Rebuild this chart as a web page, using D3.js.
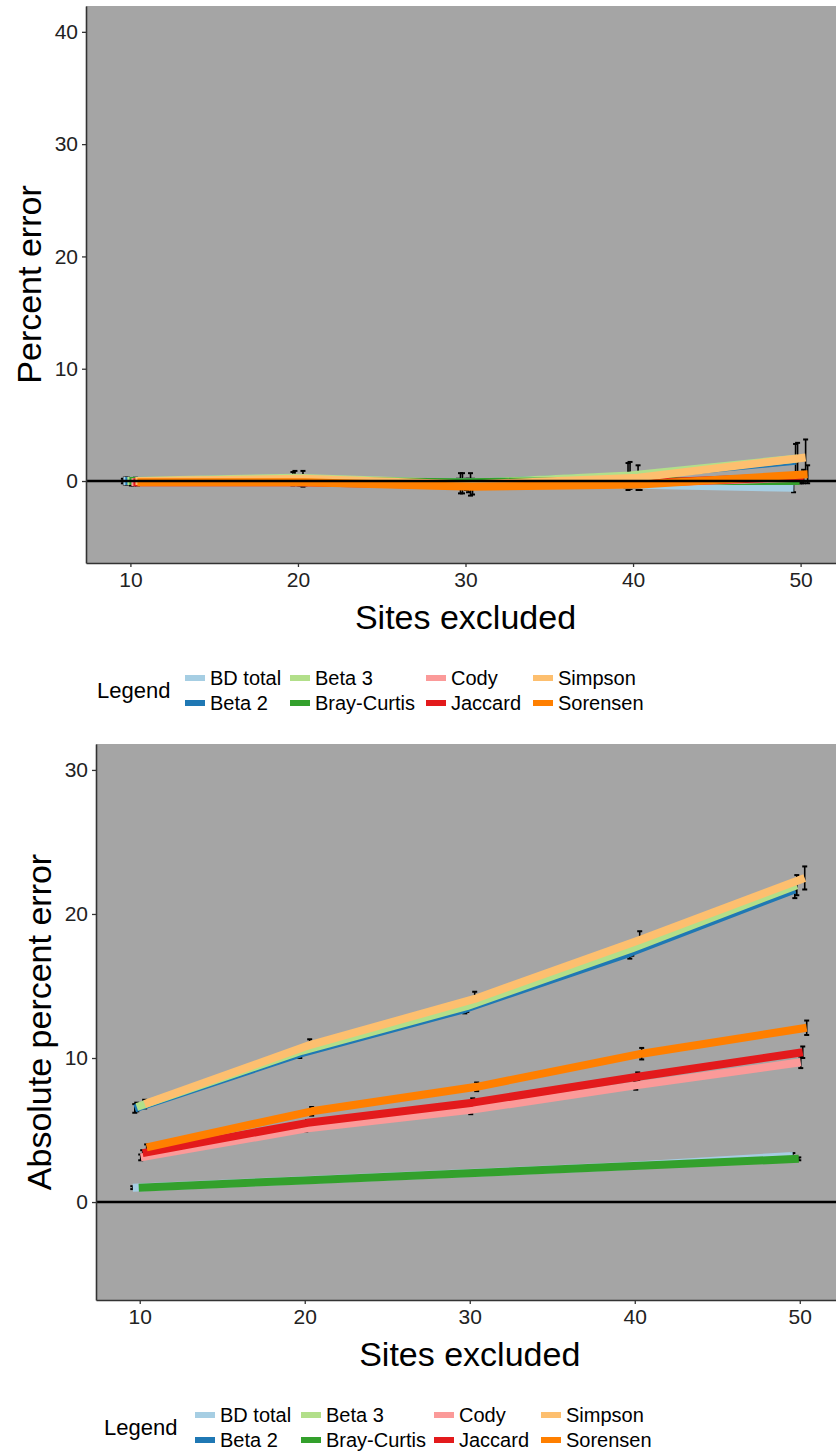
<!DOCTYPE html>
<html>
<head>
<meta charset="utf-8">
<script src="https://cdn.jsdelivr.net/npm/d3@7"></script>
<style>
  html, body { margin: 0; padding: 0; background: #ffffff; }
  svg { display: block; font-family: "Liberation Sans", Arial, sans-serif; }
</style>
</head>
<body>
<svg id="chart" width="836" height="1452"></svg>
<script>
// Series (dissimilarity measures) and their colours
const seriesNames = ["BD total", "Beta 2", "Beta 3", "Bray-Curtis", "Cody", "Jaccard", "Simpson", "Sorensen"];
const seriesColors = ["#a6cee3", "#1f78b4", "#b2df8a", "#33a02c", "#fb9a99", "#e31a1c", "#fdbf6f", "#ff7f00"];

// Number of sites excluded
const sitesExcluded = [10, 20, 30, 40, 50];

// Percent error: mean and error-bar half-width, one row per series
const percentErrorMean = [
  [0.0, 0.0, -0.1, -0.3, -0.6],
  [0.0, 0.2, -0.2, 0.4, 1.8],
  [0.0, 0.3, -0.2, 0.5, 2.0],
  [0.0, 0.0, -0.1, 0.0, 0.0],
  [-0.1, -0.1, -0.3, -0.2, 0.3],
  [-0.1, -0.1, -0.4, -0.2, 0.4],
  [0.0, 0.2, -0.3, 0.3, 2.1],
  [-0.1, -0.1, -0.5, -0.3, 0.6]
];
const percentErrorSE = [
  [0.2, 0.2, 0.3, 0.3, 0.4],
  [0.3, 0.6, 0.9, 1.2, 1.5],
  [0.3, 0.6, 0.9, 1.2, 1.4],
  [0.2, 0.2, 0.2, 0.2, 0.2],
  [0.3, 0.3, 0.5, 0.4, 0.5],
  [0.3, 0.3, 0.6, 0.4, 0.6],
  [0.3, 0.7, 1.0, 1.1, 1.6],
  [0.3, 0.3, 0.7, 0.5, 0.8]
];

// Absolute percent error: mean and error-bar half-width
const absErrorMean = [
  [1.0, 1.5, 2.0, 2.5, 3.2],
  [6.5, 10.3, 13.4, 17.3, 21.7],
  [6.6, 10.5, 13.6, 17.6, 22.0],
  [1.0, 1.5, 2.0, 2.5, 3.0],
  [3.1, 5.1, 6.4, 8.1, 9.7],
  [3.4, 5.5, 6.9, 8.7, 10.4],
  [6.8, 10.9, 14.1, 18.2, 22.5],
  [3.8, 6.3, 8.0, 10.3, 12.1]
];
const absErrorSE = [
  [0.1, 0.1, 0.1, 0.1, 0.2],
  [0.3, 0.3, 0.3, 0.4, 0.6],
  [0.3, 0.3, 0.4, 0.5, 0.7],
  [0.1, 0.1, 0.1, 0.1, 0.1],
  [0.2, 0.2, 0.3, 0.3, 0.4],
  [0.2, 0.2, 0.3, 0.3, 0.4],
  [0.3, 0.4, 0.5, 0.6, 0.8],
  [0.2, 0.3, 0.3, 0.4, 0.5]
];

// Tick labels
const percentTicks = [0, 10, 20, 30, 40];
const absTicks = [0, 10, 20, 30];
const siteTicks = [10, 20, 30, 40, 50];

const svg = d3.select("#chart");
const dodgeStep = 0.12;       // horizontal dodge between series, in x units
const lineWidth = 8;
const panelFill = "#a5a5a5";
const axisColor = "#333333";
const textColor = "#222222";

function drawPanel(cfg) {
  const x = d3.scaleLinear().domain([7.35, 52.65]).range([cfg.left, cfg.right]);
  const y = d3.scaleLinear().domain(cfg.yDomain).range([cfg.bottom, cfg.top]);
  const g = svg.append("g");
  const clipId = "clip-" + cfg.id;

  g.append("clipPath").attr("id", clipId)
    .append("rect")
    .attr("x", cfg.left).attr("y", cfg.top)
    .attr("width", cfg.right - cfg.left).attr("height", cfg.bottom - cfg.top);

  g.append("rect")
    .attr("x", cfg.left).attr("y", cfg.top)
    .attr("width", cfg.right - cfg.left).attr("height", cfg.bottom - cfg.top)
    .attr("fill", panelFill);

  const plot = g.append("g").attr("clip-path", `url(#${clipId})`);

  const data = seriesNames.map((name, i) => ({
    name, color: seriesColors[i],
    pts: sitesExcluded.map((s, j) => ({
      x: s + (i - 3.5) * dodgeStep,
      y: cfg.mean[i][j],
      e: cfg.se[i][j]
    }))
  }));

  // error bars sit beneath the lines
  const eb = plot.append("g");
  data.forEach(d => {
    d.pts.forEach(p => {
      const px = x(p.x);
      eb.append("line").attr("x1", px).attr("x2", px)
        .attr("y1", y(p.y - p.e)).attr("y2", y(p.y + p.e))
        .attr("stroke", "#000").attr("stroke-width", 1.6);
      [p.y - p.e, p.y + p.e].forEach(v => {
        eb.append("line").attr("x1", px - 2.5).attr("x2", px + 2.5)
          .attr("y1", y(v)).attr("y2", y(v))
          .attr("stroke", "#000").attr("stroke-width", 2);
      });
    });
  });

  const line = d3.line().x(p => x(p.x)).y(p => y(p.y));
  plot.append("g").selectAll("path").data(data).join("path")
    .attr("d", d => line(d.pts))
    .attr("fill", "none")
    .attr("stroke", d => d.color)
    .attr("stroke-width", lineWidth)
    .attr("stroke-linejoin", "round")
    .attr("stroke-linecap", "butt");

  // zero reference line
  plot.append("line")
    .attr("x1", cfg.left).attr("x2", cfg.right)
    .attr("y1", y(0)).attr("y2", y(0))
    .attr("stroke", "#000").attr("stroke-width", 2.6);

  // axes
  const yAxis = g.append("g").attr("transform", `translate(${cfg.left},0)`)
    .call(d3.axisLeft(y).tickValues(cfg.yTicks).tickSize(4).tickSizeOuter(0).tickPadding(4));
  const xAxis = g.append("g").attr("transform", `translate(0,${cfg.bottom})`)
    .call(d3.axisBottom(x).tickValues(siteTicks).tickSize(4).tickSizeOuter(0).tickPadding(5));
  [yAxis, xAxis].forEach(a => {
    a.select(".domain").attr("stroke", axisColor).attr("stroke-width", 1.6);
    a.selectAll(".tick line").attr("stroke", axisColor).attr("stroke-width", 1.3);
    a.selectAll(".tick text").attr("fill", textColor)
      .style("font-size", "21px").style("font-family", "Liberation Sans, Arial, sans-serif");
  });

  // axis titles
  g.append("text")
    .attr("x", (cfg.left + cfg.right) / 2).attr("y", cfg.bottom + 66)
    .attr("text-anchor", "middle").attr("fill", "#000")
    .style("font-size", "34px").text("Sites excluded");
  g.append("text")
    .attr("transform", `translate(${cfg.left - 45},${(cfg.top + cfg.bottom) / 2}) rotate(-90)`)
    .attr("text-anchor", "middle").attr("fill", "#000")
    .style("font-size", "34px").text(cfg.yTitle);

  // legend
  const lg = g.append("g");
  lg.append("text").attr("x", cfg.legendX).attr("y", cfg.legendY + 12.5)
    .attr("dominant-baseline", "central").attr("fill", "#000")
    .style("font-size", "22px").text("Legend");
  seriesNames.forEach((name, i) => {
    const col = Math.floor(i / 2), row = i % 2;
    const kx = cfg.legendCols[col];
    const ky = cfg.legendY + row * 25;
    lg.append("rect").attr("x", kx).attr("y", ky - 3)
      .attr("width", 20).attr("height", 6).attr("fill", seriesColors[i]);
    lg.append("text").attr("x", kx + 25).attr("y", ky)
      .attr("dominant-baseline", "central").attr("fill", "#000")
      .style("font-size", "20px").text(name);
  });
}

drawPanel({
  id: "pct", left: 86, right: 845, top: 6, bottom: 563,
  yDomain: [-7.3, 42.3], yTicks: percentTicks, yTitle: "Percent error",
  mean: percentErrorMean, se: percentErrorSE,
  legendX: 97, legendY: 678, legendCols: [185, 290, 426, 533]
});

drawPanel({
  id: "abs", left: 96, right: 843.5, top: 744, bottom: 1300,
  yDomain: [-6.8, 31.8], yTicks: absTicks, yTitle: "Absolute percent error",
  mean: absErrorMean, se: absErrorSE,
  legendX: 104, legendY: 1415, legendCols: [195, 301, 434, 541]
});
</script>
</body>
</html>
